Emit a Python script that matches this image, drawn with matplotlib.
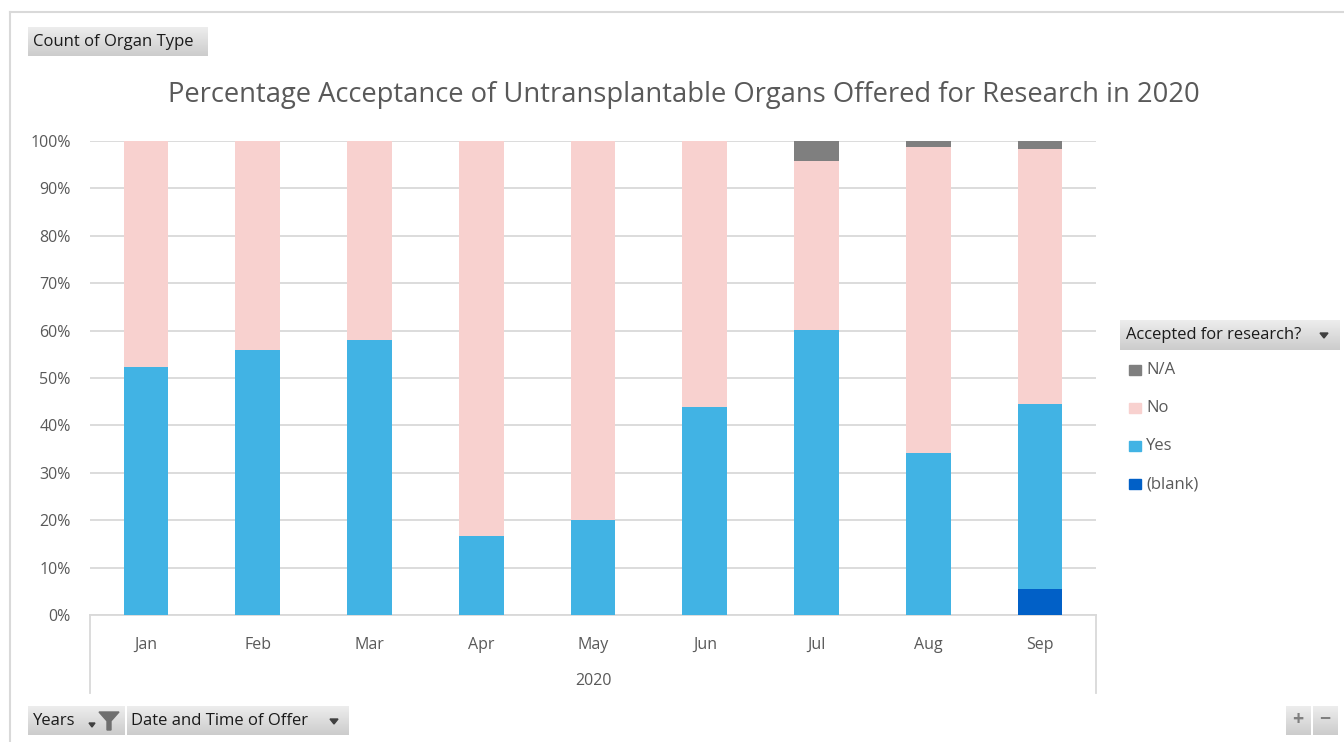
import matplotlib
matplotlib.use("Agg")
import matplotlib.pyplot as plt
import numpy as np
from matplotlib.patches import Rectangle, Polygon
from matplotlib.lines import Line2D

plt.rcParams['font.family'] = ['Open Sans', 'DejaVu Sans']

# dados (percentagens)
meses = ['Jan', 'Feb', 'Mar', 'Apr', 'May', 'Jun', 'Jul', 'Aug', 'Sep']
blank = [0, 0, 0, 0, 0, 0, 0, 0, 5.5]
yes = [52.3, 55.9, 58.0, 16.7, 20.0, 43.9, 60.1, 34.2, 39.0]
no = [47.7, 44.1, 42.0, 83.3, 80.0, 56.1, 35.7, 64.5, 53.8]
na = [0, 0, 0, 0, 0, 0, 4.2, 1.3, 1.7]
series = ['N/A', 'No', 'Yes', '(blank)']
cores = {'N/A': '#7f7f7f', 'No': '#f8d1cf', 'Yes': '#41b3e4', '(blank)': '#0160c7'}

W, H = 1344, 742
fig = plt.figure(figsize=(W / 100, H / 100), dpi=100)

def fx(px):
    return px / W

def fy(py):
    return 1 - py / H

ax = fig.add_axes([fx(90), fy(615), fx(1096) - fx(90), fy(141) - fy(615)])
x = np.arange(len(meses))
base = np.zeros(len(meses))
for nome, vals in [('(blank)', blank), ('Yes', yes), ('No', no), ('N/A', na)]:
    ax.bar(x, vals, 0.40, bottom=base, color=cores[nome], zorder=3)
    base = base + np.array(vals)

ax.set_xlim(-0.5, len(meses) - 0.5)
ax.set_ylim(0, 100)
ax.set_yticks(np.arange(0, 101, 10))
ax.set_yticklabels([f'{v}%' for v in range(0, 101, 10)], color='#595959', fontsize=11.5)
ax.yaxis.grid(True, color='#d9d9d9', linewidth=1.3, zorder=0)
ax.tick_params(axis='y', length=0, pad=14)
ax.set_xticks(x)
ax.set_xticklabels(meses, color='#595959', fontsize=11.5)
ax.tick_params(axis='x', length=0, pad=16)
for s in ['top', 'right', 'left']:
    ax.spines[s].set_visible(False)
ax.spines['bottom'].set_color('#d9d9d9')
ax.spines['bottom'].set_linewidth(1.3)

# caixa do eixo de categorias
for px in [90, 1096]:
    fig.add_artist(Line2D([fx(px), fx(px)], [fy(615), fy(693)], color='#d9d9d9', lw=1.3))
fig.text(fx(593), fy(681), '2020', ha='center', va='center', color='#595959', fontsize=11.5)

# título
fig.text(fx(684), fy(95), 'Percentage Acceptance of Untransplantable Organs Offered for Research in 2020',
         ha='center', va='center', color='#595959', fontsize=19.7)

# moldura
fig.add_artist(Line2D([fx(10), fx(1344)], [fy(12), fy(12)], color='#d9d9d9', lw=1.5))
fig.add_artist(Line2D([fx(10), fx(10)], [fy(12), fy(742)], color='#d9d9d9', lw=1.5))

# botões cinzentos com gradiente
grad = np.linspace(0.93, 0.80, 50).reshape(-1, 1)

def botao(x0, y0, x1, y1):
    bax = fig.add_axes([fx(x0), fy(y1), fx(x1) - fx(x0), fy(y0) - fy(y1)])
    bax.imshow(np.dstack([grad, grad, grad]), aspect='auto', extent=[0, 1, 0, 1])
    bax.set_xlim(0, 1)
    bax.set_ylim(0, 1)
    bax.axis('off')
    return bax

botao(28, 27, 208, 56)
fig.text(fx(33), fy(42), 'Count of Organ Type', ha='left', va='center', fontsize=12, color='#1a1a1a')

botao(1120, 320, 1340, 350)
fig.text(fx(1126), fy(335), 'Accepted for research?', ha='left', va='center', fontsize=11.9, color='#1a1a1a')
fig.add_artist(Polygon([[fx(1320), fy(333)], [fx(1328), fy(333)], [fx(1324), fy(338)]], closed=True, color='#404040'))

botao(28, 706, 125, 735)
fig.text(fx(33), fy(721), 'Years', ha='left', va='center', fontsize=12, color='#1a1a1a')
fig.add_artist(Polygon([[fx(89), fy(723)], [fx(95), fy(723)], [fx(92), fy(727)]], closed=True, color='#404040'))
fig.add_artist(Polygon([[fx(99), fy(712)], [fx(119), fy(712)], [fx(111), fy(721)], [fx(111), fy(730)],
                        [fx(107), fy(730)], [fx(107), fy(721)]], closed=True, color='#6f6f6f'))

botao(127, 706, 348, 735)
fig.text(fx(131), fy(721), 'Date and Time of Offer', ha='left', va='center', fontsize=12, color='#1a1a1a')
fig.add_artist(Polygon([[fx(330), fy(719)], [fx(338), fy(719)], [fx(334), fy(724)]], closed=True, color='#404040'))

botao(1286, 706, 1311, 735)
fig.text(fx(1298), fy(720), '+', ha='center', va='center', fontsize=14, color='#7f7f7f', fontweight='bold')
botao(1313, 706, 1338, 735)
fig.text(fx(1325), fy(720), '\u2212', ha='center', va='center', fontsize=14, color='#7f7f7f', fontweight='bold')

# legenda
leg_y = [370, 408, 446, 484]
for nome, py in zip(series, leg_y):
    fig.add_artist(Rectangle((fx(1129), fy(py + 5)), fx(12), fy(0) - fy(10), color=cores[nome]))
    fig.text(fx(1146), fy(py), nome, ha='left', va='center', fontsize=12, color='#595959')

fig.savefig('out.png', dpi=100)
